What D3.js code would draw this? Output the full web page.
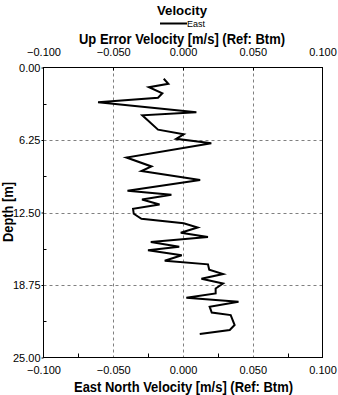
<!DOCTYPE html>
<html><head><meta charset="utf-8">
<script src="https://cdn.jsdelivr.net/npm/d3@7"></script>
<style>body{margin:0;background:#fff}svg{display:block}text{font-family:"Liberation Sans",Arial,sans-serif}</style>
</head><body>
<script>
const title = "Velocity";
const legendLabel = "East";
const topTitle = "Up Error Velocity [m/s] (Ref: Btm)";
const bottomTitle = "East North Velocity [m/s] (Ref: Btm)";
const yTitle = "Depth [m]";
const xTicks = [-0.1, -0.05, 0, 0.05, 0.1];
const xMinor = [-0.075, -0.025, 0.025, 0.075];
const yTicks = [0, 6.25, 12.5, 18.75, 25];
const yMinor = [3.125, 9.375, 15.625, 21.875];
const depth = [0.97,1.41,1.70,2.22,2.61,2.99,3.85,4.12,5.36,5.76,6.15,6.53,7.76,8.53,8.92,9.70,10.63,10.97,11.38,11.81,12.18,12.61,13.04,13.43,13.79,14.25,14.61,15.04,15.45,15.75,16.19,16.66,16.97,17.44,17.80,18.21,18.62,19.05,19.48,19.85,20.19,20.62,21.12,21.34,22.20,22.63,22.97];
const east = [-0.0138,-0.0105,-0.0244,-0.0148,-0.0179,-0.0609,0.0096,-0.0292,-0.0179,0.0005,-0.0049,0.0203,-0.0405,-0.0226,-0.0298,0.0123,-0.0398,-0.0083,-0.0294,-0.0168,-0.0358,-0.0353,-0.0298,0.0005,0.0105,-0.0016,0.0179,-0.0231,-0.0027,-0.0251,-0.0009,-0.0131,0.0179,0.0188,0.0287,0.0132,0.0287,0.0234,0.0234,0.0024,0.0398,0.0191,0.0206,0.0342,0.0370,0.0335,0.0120];

const W = 338, H = 395;
const svg = d3.select("body").append("svg").attr("width", W).attr("height", H);
const x = d3.scaleLinear().domain([-0.1, 0.1]).range([43.5, 322.5]);
const y = d3.scaleLinear().domain([0, 25]).range([67.5, 357.5]);
const fmtX = d3.format(".3f"), fmtY = d3.format(".2f");

// grid
const g = svg.append("g");
g.selectAll(".gx").data(xTicks.slice(1, -1)).join("line")
  .attr("x1", d => Math.round(x(d)) + 0.5).attr("x2", d => Math.round(x(d)) + 0.5)
  .attr("y1", y(0)).attr("y2", y(25))
  .attr("stroke", "#808080").attr("stroke-dasharray", "3,3");
g.selectAll(".gy").data(yTicks.slice(1, -1)).join("line")
  .attr("y1", d => Math.round(y(d)) + 0.5).attr("y2", d => Math.round(y(d)) + 0.5)
  .attr("x1", x(-0.1)).attr("x2", x(0.1))
  .attr("stroke", "#808080").attr("stroke-dasharray", "3,3");

// data line
const line = d3.line().x(d => x(d[0])).y(d => y(d[1]));
svg.append("path").datum(east.map((v, i) => [v, depth[i]]))
  .attr("d", line).attr("fill", "none").attr("stroke", "#000").attr("stroke-width", 2)
  .attr("stroke-linejoin", "miter");

// frame
svg.append("rect").attr("x", x(-0.1)).attr("y", y(0))
  .attr("width", x(0.1) - x(-0.1)).attr("height", y(25) - y(0))
  .attr("fill", "none").attr("stroke", "#000");

// axes
const bottomAx = d3.axisBottom(x).tickValues(xTicks).tickFormat(fmtX).tickSize(0).tickPadding(9);
const topAx = d3.axisTop(x).tickValues(xTicks).tickFormat(fmtX).tickSize(0).tickPadding(12);
const leftAx = d3.axisLeft(y).tickValues(yTicks).tickFormat(fmtY).tickSize(2).tickPadding(1);
function style(sel) {
  sel.select(".domain").remove();
  sel.selectAll("text").attr("font-size", 11).attr("fill", "#000").attr("font-family", "Liberation Sans, Arial, sans-serif");
  sel.selectAll("line").attr("stroke", "#000");
}
svg.append("g").attr("transform", `translate(0,${y(25)})`).call(bottomAx).call(style);
svg.append("g").attr("transform", `translate(0,${y(0)})`).call(topAx).call(style);
svg.append("g").attr("transform", `translate(${x(-0.1)},0)`).call(leftAx).call(style);

// inner ticks
svg.selectAll(".mxb").data(xMinor).join("line")
  .attr("x1", d => Math.round(x(d)) + 0.5).attr("x2", d => Math.round(x(d)) + 0.5)
  .attr("y1", y(25)).attr("y2", y(25) - 4).attr("stroke", "#000");
svg.selectAll(".mxt").data(xTicks.slice(1, -1)).join("line")
  .attr("x1", d => Math.round(x(d)) + 0.5).attr("x2", d => Math.round(x(d)) + 0.5)
  .attr("y1", y(0)).attr("y2", y(0) + 3).attr("stroke", "#000");
svg.selectAll(".myl").data(yMinor).join("line")
  .attr("y1", d => Math.round(y(d)) + 0.5).attr("y2", d => Math.round(y(d)) + 0.5)
  .attr("x1", x(-0.1)).attr("x2", x(-0.1) + 3).attr("stroke", "#000");

// titles
svg.append("text").attr("x", 182).attr("y", 15).attr("text-anchor", "middle")
  .attr("font-size", 13).attr("font-weight", "bold").attr("textLength", 50).attr("lengthAdjust", "spacingAndGlyphs").text(title);
svg.append("line").attr("x1", 160).attr("x2", 187).attr("y1", 23.5).attr("y2", 23.5)
  .attr("stroke", "#000").attr("stroke-width", 2);
svg.append("text").attr("x", 187).attr("y", 27).attr("font-size", 9).text(legendLabel);
svg.append("text").attr("x", 182).attr("y", 44).attr("text-anchor", "middle")
  .attr("font-size", 14).attr("font-weight", "bold").attr("textLength", 206).attr("lengthAdjust", "spacingAndGlyphs").text(topTitle);
svg.append("text").attr("x", 183.5).attr("y", 392).attr("text-anchor", "middle")
  .attr("font-size", 14).attr("font-weight", "bold").attr("textLength", 219).attr("lengthAdjust", "spacingAndGlyphs").text(bottomTitle);
svg.append("text").attr("transform", "translate(13,212) rotate(-90)").attr("text-anchor", "middle")
  .attr("font-size", 14).attr("font-weight", "bold").attr("textLength", 60).attr("lengthAdjust", "spacingAndGlyphs").text(yTitle);
</script>
</body></html>
